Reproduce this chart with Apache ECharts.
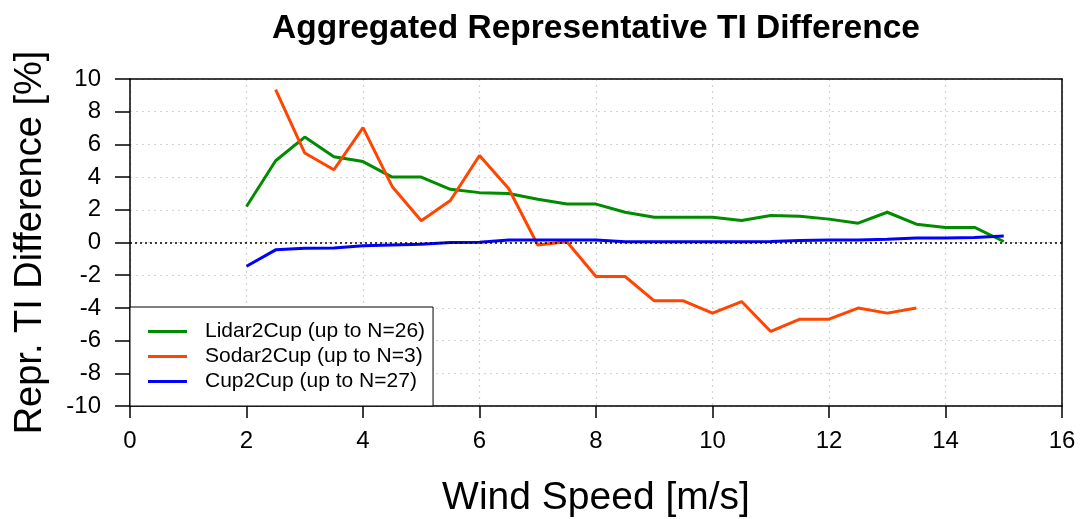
<!DOCTYPE html>
<html>
<head>
<meta charset="utf-8">
<style>
  html, body { margin: 0; padding: 0; background: #fff; }
  #chart { width: 1084px; height: 519px; }
</style>
<script src="https://cdn.jsdelivr.net/npm/echarts@6/dist/echarts.min.js"></script>
</head>
<body>
<div id="chart"></div>
<script>
// Wind speed bins [m/s]
const lidarSpeeds = [2.0, 2.5, 3.0, 3.5, 4.0, 4.5, 5.0, 5.5, 6.0, 6.5, 7.0, 7.5, 8.0, 8.5, 9.0, 9.5, 10.0, 10.5, 11.0, 11.5, 12.0, 12.5, 13.0, 13.5, 14.0, 14.5, 15.0];
const sodarSpeeds = [2.5, 3.0, 3.5, 4.0, 4.5, 5.0, 5.5, 6.0, 6.5, 7.0, 7.5, 8.0, 8.5, 9.0, 9.5, 10.0, 10.5, 11.0, 11.5, 12.0, 12.5, 13.0, 13.5];
const cupSpeeds = [2.0, 2.5, 3.0, 3.5, 4.0, 4.5, 5.0, 5.5, 6.0, 6.5, 7.0, 7.5, 8.0, 8.5, 9.0, 9.5, 10.0, 10.5, 11.0, 11.5, 12.0, 12.5, 13.0, 13.5, 14.0, 14.5, 15.0];

// Representative TI difference [%]
const lidarDiff = [2.2, 5.0, 6.45, 5.25, 4.95, 4.0, 4.0, 3.25, 3.05, 3.0, 2.65, 2.35, 2.35, 1.85, 1.55, 1.55, 1.55, 1.35, 1.65, 1.6, 1.43, 1.18, 1.85, 1.12, 0.92, 0.92, 0.06];
const sodarDiff = [9.35, 5.47, 4.45, 7.03, 3.43, 1.33, 2.57, 5.32, 3.3, -0.15, 0.05, -2.08, -2.08, -3.57, -3.57, -4.32, -3.61, -5.44, -4.69, -4.69, -4.01, -4.32, -4.01];
const cupDiff = [-1.45, -0.45, -0.35, -0.33, -0.2, -0.15, -0.1, 0.0, 0.02, 0.15, 0.16, 0.16, 0.15, 0.05, 0.05, 0.05, 0.05, 0.05, 0.06, 0.12, 0.15, 0.15, 0.2, 0.27, 0.28, 0.3, 0.4];

const seriesNames = ['Lidar2Cup (up to N=26)', 'Sodar2Cup (up to N=3)', 'Cup2Cup (up to N=27)'];
const seriesColors = ['#008B00', '#FF4500', '#0000FF'];

const FONT = '"Liberation Sans", Arial, Helvetica, sans-serif';

function pairs(xs, ys) {
  return xs.map((x, i) => [x, ys[i]]);
}

function lineSeries(idx, xs, ys, extra) {
  return Object.assign({
    name: seriesNames[idx],
    type: 'line',
    data: pairs(xs, ys),
    showSymbol: false,
    symbol: 'none',
    lineStyle: { color: seriesColors[idx], width: 3 },
    itemStyle: { color: seriesColors[idx] },
    z: 3,
    animation: false
  }, extra || {});
}

const gridLine = { show: true, lineStyle: { color: '#d3d3d3', type: [2, 4], width: 1.2 } };
const boxLine = { show: true, onZero: false, lineStyle: { color: '#000', width: 1.5 } };

const chart = echarts.init(document.getElementById('chart'));

chart.setOption({
  animation: false,
  backgroundColor: '#ffffff',
  graphic: [{
    type: 'text',
    x: 596,
    y: 12,
    z: 10,
    style: {
      text: 'Aggregated Representative TI Difference',
      font: 'bold 33.5px ' + FONT,
      fill: '#000',
      textAlign: 'center',
      textVerticalAlign: 'top'
    }
  }],
  grid: {
    left: 130, right: 22, top: 79, bottom: 113,
    show: false,
    containLabel: false,
    outerBoundsMode: 'none'
  },
  legend: {
    orient: 'vertical',
    left: 130,
    top: 307,
    z: 6,
    backgroundColor: '#fff',
    borderColor: '#000',
    borderWidth: 1,
    borderRadius: 0,
    padding: [12, 8, 12, 18],
    itemGap: 0,
    itemWidth: 39,
    itemHeight: 3,
    icon: 'rect',
    selectedMode: false,
    textStyle: {
      fontFamily: FONT,
      fontSize: 21,
      color: '#000',
      lineHeight: 25,
      padding: [0, 0, 0, 13]
    },
    data: seriesNames
  },
  xAxis: [{
    type: 'value',
    position: 'bottom',
    min: 0, max: 16, interval: 2,
    name: 'Wind Speed [m/s]',
    nameLocation: 'middle',
    nameGap: 73,
    nameTextStyle: { fontFamily: FONT, fontSize: 39, color: '#000' },
    axisLine: boxLine,
    axisTick: { show: true, inside: false, length: 12, lineStyle: { color: '#000', width: 1.5 } },
    axisLabel: { fontFamily: FONT, fontSize: 24, color: '#000', margin: 23 },
    splitLine: gridLine
  }, {
    // top edge of the plot frame
    type: 'value',
    position: 'top',
    min: 0, max: 16, interval: 2,
    axisLine: boxLine,
    axisTick: { show: false },
    axisLabel: { show: false },
    splitLine: { show: false }
  }],
  yAxis: [{
    type: 'value',
    position: 'left',
    min: -10, max: 10, interval: 2,
    name: 'Repr. TI Difference [%]',
    nameLocation: 'middle',
    nameRotate: 90,
    nameGap: 80,
    nameTextStyle: { fontFamily: FONT, fontSize: 38, color: '#000' },
    axisLine: boxLine,
    axisTick: { show: true, inside: false, length: 15, lineStyle: { color: '#000', width: 1.5 } },
    axisLabel: { fontFamily: FONT, fontSize: 24, color: '#000', margin: 29 },
    splitLine: gridLine
  }, {
    // right edge of the plot frame
    type: 'value',
    position: 'right',
    min: -10, max: 10, interval: 2,
    axisLine: boxLine,
    axisTick: { show: false },
    axisLabel: { show: false },
    splitLine: { show: false }
  }],
  series: [
    lineSeries(0, lidarSpeeds, lidarDiff, {
      markLine: {
        silent: true,
        symbol: 'none',
        label: { show: false },
        lineStyle: { color: '#000', type: [2, 3], width: 1.6 },
        data: [{ yAxis: 0 }],
        animation: false
      }
    }),
    lineSeries(1, sodarSpeeds, sodarDiff),
    lineSeries(2, cupSpeeds, cupDiff)
  ]
});
</script>
</body>
</html>
